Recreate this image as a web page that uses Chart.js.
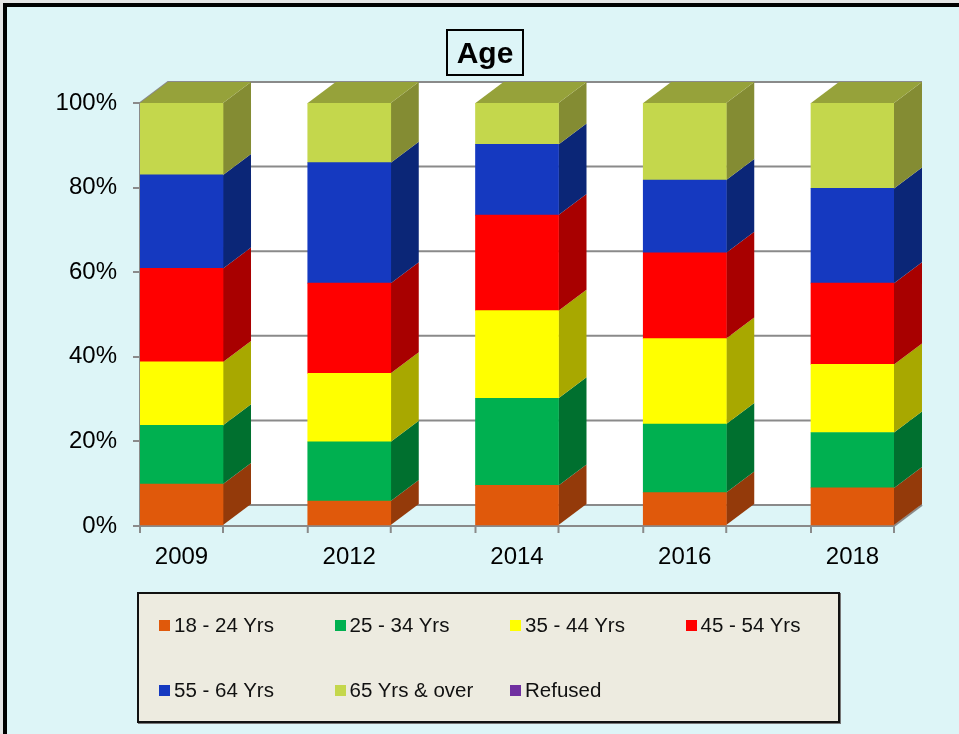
<!DOCTYPE html>
<html>
<head>
<meta charset="utf-8">
<script src="https://cdn.jsdelivr.net/npm/chart.js@4"></script>
<style>
  body { margin: 0; width: 959px; height: 734px; overflow: hidden; background: #e4e4e4; position: relative; font-family: "Liberation Sans", Arial, sans-serif; }
  #frame { position: absolute; left: 3px; top: 3px; width: 970px; height: 750px; border-left: 4px solid #000; border-top: 4px solid #000; background: #ddf5f7; }
  #c { position: absolute; left: 0; top: 0; }
  #title { position: absolute; left: 446px; top: 29px; width: 74px; height: 43px; border: 2px solid #000; font-weight: bold; font-size: 30px; line-height: 43px; text-align: center; color: #000; }
  #legend { position: absolute; left: 137px; top: 592px; width: 699px; height: 127px; border: 2px solid #111; background: #edebe0; box-shadow: 1px 1px 0 #777; }
  .item { position: absolute; font-size: 20.5px; color: #111; white-space: nowrap; line-height: 22px; }
  .item i { display: inline-block; width: 11px; height: 11px; margin-right: 4px; vertical-align: 1px; }
</style>
</head>
<body>
<div id="frame"></div>
<canvas id="c" width="959" height="734"></canvas>
<div id="title">Age</div>
<div id="legend"></div>
<script>
// data (percent of respondents)
const years = ["2009", "2012", "2014", "2016", "2018"];
const seriesNames = ["18 - 24 Yrs", "25 - 34 Yrs", "35 - 44 Yrs", "45 - 54 Yrs", "55 - 64 Yrs", "65 Yrs & over", "Refused"];
const age18to24 = [9.9, 5.9, 9.6, 7.9, 9.0];
const age25to34 = [13.9, 14.0, 20.6, 16.2, 13.1];
const age35to44 = [15.0, 16.2, 20.7, 20.2, 16.1];
const age45to54 = [22.1, 21.3, 22.6, 20.3, 19.2];
const age55to64 = [22.1, 28.5, 16.7, 17.2, 22.4];
const age65plus = [17.0, 14.1, 9.8, 18.2, 20.2];
const refused = [0, 0, 0, 0, 0];
const yTicks = [0, 20, 40, 60, 80, 100];

const allSeries = [age18to24, age25to34, age35to44, age45to54, age55to64, age65plus, refused];
const frontColors = ["#e0590b", "#00b050", "#ffff00", "#ff0000", "#1539c0", "#c4d74c", "#7030a0"];
const sideColors = ["#943a0a", "#00702f", "#a8a800", "#a80000", "#0b2677", "#848c33", "#4a1f6a"];
const topColors = ["#b04a0a", "#008a3e", "#c8c800", "#c80000", "#112f99", "#96a23a", "#5a267f"];

// 3d depth of the excel style columns
const dx = 28, dy = -21;

const threeD = {
    id: "threeD",
    beforeDraw(chart) {
        const { ctx } = chart;
        const x = chart.scales.x, y = chart.scales.y;
        const l = x.left, r = x.right;
        ctx.save();
        // back wall
        ctx.fillStyle = "#ffffff";
        ctx.fillRect(l + dx, y.top + dy, r - l, y.bottom - y.top);
        // grid lines on the back wall
        ctx.strokeStyle = "#8a8a8a";
        ctx.lineWidth = 2;
        yTicks.forEach(v => {
            const py = y.getPixelForValue(v);
            ctx.beginPath();
            ctx.moveTo(l, py);
            ctx.lineTo(l + dx, py + dy);
            ctx.lineTo(r + dx, py + dy);
            ctx.stroke();
        });
        ctx.beginPath();
        ctx.moveTo(r, y.bottom);
        ctx.lineTo(r + dx, y.bottom + dy);
        ctx.stroke();
        ctx.restore();
    },
    beforeDatasetsDraw(chart) {
        const { ctx } = chart;
        const y = chart.scales.y;
        ctx.save();
        years.forEach((yr, i) => {
            // topmost non-empty segment gets the lid
            let topDs = -1;
            allSeries.forEach((s, d) => { if (s[i] > 0) topDs = d; });
            allSeries.forEach((s, d) => {
                if (!(s[i] > 0)) return;
                const el = chart.getDatasetMeta(d).data[i];
                const left = el.x - el.width / 2, right = el.x + el.width / 2;
                const top = el.y, bot = el.base;
                ctx.fillStyle = sideColors[d];
                ctx.beginPath();
                ctx.moveTo(right, top);
                ctx.lineTo(right + dx, top + dy);
                ctx.lineTo(right + dx, bot + dy);
                ctx.lineTo(right, bot);
                ctx.closePath();
                ctx.fill();
                if (d === topDs) {
                    ctx.fillStyle = topColors[d];
                    ctx.beginPath();
                    ctx.moveTo(left, top);
                    ctx.lineTo(right, top);
                    ctx.lineTo(right + dx, top + dy);
                    ctx.lineTo(left + dx, top + dy);
                    ctx.closePath();
                    ctx.fill();
                }
            });
            // axis tick marks sit at the column edges
            const el0 = chart.getDatasetMeta(0).data[i];
            ctx.strokeStyle = "#8a8a8a";
            ctx.lineWidth = 2;
            [el0.x - el0.width / 2, el0.x + el0.width / 2].forEach(px => {
                ctx.beginPath();
                ctx.moveTo(px, y.bottom);
                ctx.lineTo(px, y.bottom + 7);
                ctx.stroke();
            });
        });
        ctx.restore();
    }
};

Chart.defaults.font.family = '"Liberation Sans", Arial, sans-serif';

new Chart(document.getElementById("c"), {
    type: "bar",
    data: {
        datasets: allSeries.map((s, d) => ({
            label: seriesNames[d],
            data: s.map((v, i) => ({ x: i, y: v })),
            backgroundColor: frontColors[d],
            borderWidth: 0,
            barThickness: 83
        }))
    },
    options: {
        responsive: false,
        animation: false,
        layout: { padding: { left: 10, top: 103, right: 65, bottom: 148 } },
        plugins: { legend: { display: false }, tooltip: { enabled: false } },
        scales: {
            x: {
                type: "linear",
                stacked: true,
                offset: false,
                min: -0.2475,
                max: 4.2475,
                afterFit: s => { s.height = 60; },
                grid: { display: false, offset: false },
                border: { color: "#8a8a8a", width: 2 },
                ticks: {
                    stepSize: 1,
                    includeBounds: false,
                    autoSkip: false,
                    maxRotation: 0,
                    padding: 9,
                    color: "#000",
                    font: { size: 24 },
                    callback: v => years[v] ?? ""
                }
            },
            y: {
                stacked: true,
                min: 0,
                max: 100,
                afterFit: s => { s.width = 130; },
                afterBuildTicks: s => { s.ticks = yTicks.map(v => ({ value: v })); },
                grid: { drawOnChartArea: false, tickLength: 7, color: "#8a8a8a", lineWidth: 2 },
                border: { color: "#8a8a8a", width: 2 },
                ticks: {
                    padding: 16,
                    color: "#000",
                    font: { size: 24 },
                    callback: v => v + "%"
                }
            }
        }
    },
    plugins: [threeD]
});

// legend, 4 columns like the excel one
const legend = document.getElementById("legend");
seriesNames.forEach((name, d) => {
    const col = d % 4, row = Math.floor(d / 4);
    const div = document.createElement("div");
    div.className = "item";
    div.style.left = (20 + col * 175.5) + "px";
    div.style.top = (20 + row * 65) + "px";
    div.innerHTML = '<i style="background:' + frontColors[d] + '"></i>' + name;
    legend.appendChild(div);
});
</script>
</body>
</html>
